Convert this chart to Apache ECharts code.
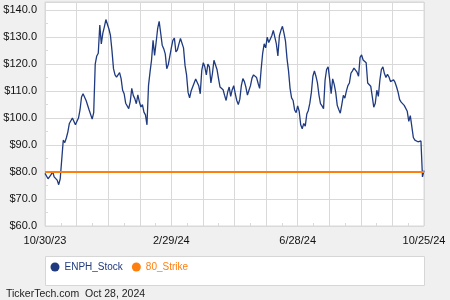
<!DOCTYPE html>
<html><head><meta charset="utf-8">
<script src="https://cdn.jsdelivr.net/npm/echarts@6/dist/echarts.min.js"></script>
<style>html,body{margin:0;padding:0;background:#f0f0f0;}#c{width:450px;height:300px;}</style>
</head><body><div id="c"></div>
<script>
var seriesNames = ['ENPH_Stock', '80_Strike'];
var tickLabels = ['10/30/23', '2/29/24', '6/28/24', '10/25/24'];
var tickIndex = [0, 83, 166, 249];
var yTicks = [60, 70, 80, 90, 100, 110, 120, 130, 140];
var strikePrice = 80;
var stockValues = [
  79.5, 78.8, 77.5, 77, 79, 80.3, 78.2, 78.5, 77, 75.3, 77.5, 78.2,
  91.8, 90.9, 92.6, 94.8, 98, 98, 100, 99.5, 97.5, 98.8, 100, 103,
  107.8, 109, 109.6, 106.5, 106, 103, 103.5, 99.6, 102,
  120, 123, 124, 134.5, 127.5, 131.5, 133.8, 136.5, 135.8, 133,
  130.6, 125, 118.3, 116, 115.2, 116, 116.8, 114.6, 110.3, 109, 105.5, 106.2,
  103.5, 106, 111, 108.4, 107.2, 105.3, 108.6, 106, 104.1, 105, 102.2, 101.2,
  97.5, 112, 117, 121.5, 128.8, 123.2, 128, 133.1, 135.8, 131.5, 127, 125.7,
  123.8, 118.3, 119.8, 120.5, 126, 128.8,
  129.6, 124.5, 125.3, 127.5, 129.5, 129.8, 126, 119.5, 116, 109.5, 107.5, 110,
  110, 113, 114.5, 114.5, 112, 109, 117.7, 120.5, 119, 116, 120, 119,
  113, 116.5, 121.4, 121, 118, 114.6, 111.5, 111.5, 110.5, 108.4, 106.5, 109.6,
  111.5, 108, 110.5, 112, 109, 106.5,
  105, 107, 112, 114.6, 113.5, 111.4, 108.5, 110.3, 112, 114.8, 116, 115.8,
  115, 112.9, 111, 118, 124, 127.5, 126, 130, 128, 127.8, 130.5, 132.5,
  132, 127.5, 123, 130.5, 132.5, 134, 131.5, 128.5, 122, 117.5, 111, 107.5,
  106.5, 103, 102, 104.5, 102.5, 97.5, 96,
  98, 97, 101.5, 102.8, 105.5, 109.5, 115.5, 117.5, 115.5, 113, 108.5, 105.3,
  104.5, 103.5, 114, 118, 119, 114.5, 109, 114.5, 112.5, 109.5, 104.7, 103.2,
  101.8, 105, 108.4, 107.4, 110, 112, 113, 116.6, 117.5, 118.5, 118, 117, 115.5,
  122.5, 123.4, 121.5, 121,
  120.5, 113, 112.5, 111.8, 108, 104, 105.5, 110.3, 108, 114, 118, 119,
  116.5, 115, 116.2, 115.2, 113.5, 114, 114.2, 113.2, 111.5, 109.5, 106.8, 105.9,
  105.5, 104.7, 104.2, 102.5, 98.8, 100.9, 101.1, 92.8, 91.8, 91.5, 91.2, 90.5,
  91.5, 78.2, 80.5
];
var lastIdx = stockValues.length - 1;
var stockData = stockValues.map(function (v, i) { return [i, v]; });
var strikeData = [[0, strikePrice], [lastIdx, strikePrice]];
var navy = '#1f3a7f', orange = '#ff7f0e', gridC = '#d9d9d9';
var FONT = '"Liberation Sans", Arial, sans-serif';

var chart = echarts.init(document.getElementById('c'), null, {renderer: 'canvas'});
chart.setOption({
  backgroundColor: '#f0f0f0',
  animation: false,
  textStyle: {fontFamily: FONT},
  grid: {left: 45, right: 26, top: 2, bottom: 74, show: true, backgroundColor: '#ffffff', borderColor: gridC, borderWidth: 1},
  graphic: [
    {type: 'rect', left: 45, top: 256, shape: {width: 379, height: 29}, style: {fill: '#ffffff', stroke: '#d6d6d6', lineWidth: 1}, z: -1},
    {type: 'text', left: 6, top: 289, style: {text: 'TickerTech.com  Oct 28, 2024', fill: '#222', font: '10.5px ' + FONT}}
  ],
  legend: {
    left: 45.5, top: 257, padding: 5, itemWidth: 9, itemHeight: 9, itemGap: 9, icon: 'circle',
    textStyle: {fontSize: 10, fontFamily: FONT},
    data: [
      {name: seriesNames[0], textStyle: {color: navy}},
      {name: seriesNames[1], textStyle: {color: orange}}
    ]
  },
  xAxis: {
    type: 'value', min: 0, max: lastIdx, interval: lastIdx / 12,
    axisLine: {show: false},
    axisTick: {show: true, inside: true, length: 3, lineStyle: {color: gridC}},
    minorTick: {show: true, splitNumber: 2, length: 3, lineStyle: {color: gridC}},
    splitLine: {show: true, lineStyle: {color: gridC, width: 1}},
    axisLabel: {
      margin: 9, color: '#111', fontSize: 11, fontFamily: FONT, showMinLabel: true, showMaxLabel: true,
      formatter: function (v) {
        for (var k = 0; k < tickIndex.length; k++) { if (Math.abs(v - tickIndex[k]) < 0.01) return tickLabels[k]; }
        return '';
      }
    }
  },
  yAxis: {
    type: 'value', min: yTicks[0], max: 143, interval: 10,
    axisLine: {show: false},
    axisTick: {show: true, inside: true, length: 3, lineStyle: {color: gridC}},
    minorTick: {show: true, splitNumber: 2, length: 3, lineStyle: {color: gridC}},
    splitLine: {show: true, lineStyle: {color: gridC, width: 1}},
    axisLabel: {
      margin: 8, color: '#111', fontSize: 11, fontFamily: FONT,
      formatter: function (v) { return yTicks.indexOf(v) >= 0 ? '$' + v.toFixed(1) : ''; }
    }
  },
  series: [
    {name: seriesNames[0], type: 'line', data: stockData, symbol: 'none', lineStyle: {color: navy, width: 1.3}, itemStyle: {color: navy}, z: 3},
    {name: seriesNames[1], type: 'line', data: strikeData, symbol: 'none', lineStyle: {color: orange, width: 2}, itemStyle: {color: orange}, z: 4}
  ]
});
</script></body></html>
